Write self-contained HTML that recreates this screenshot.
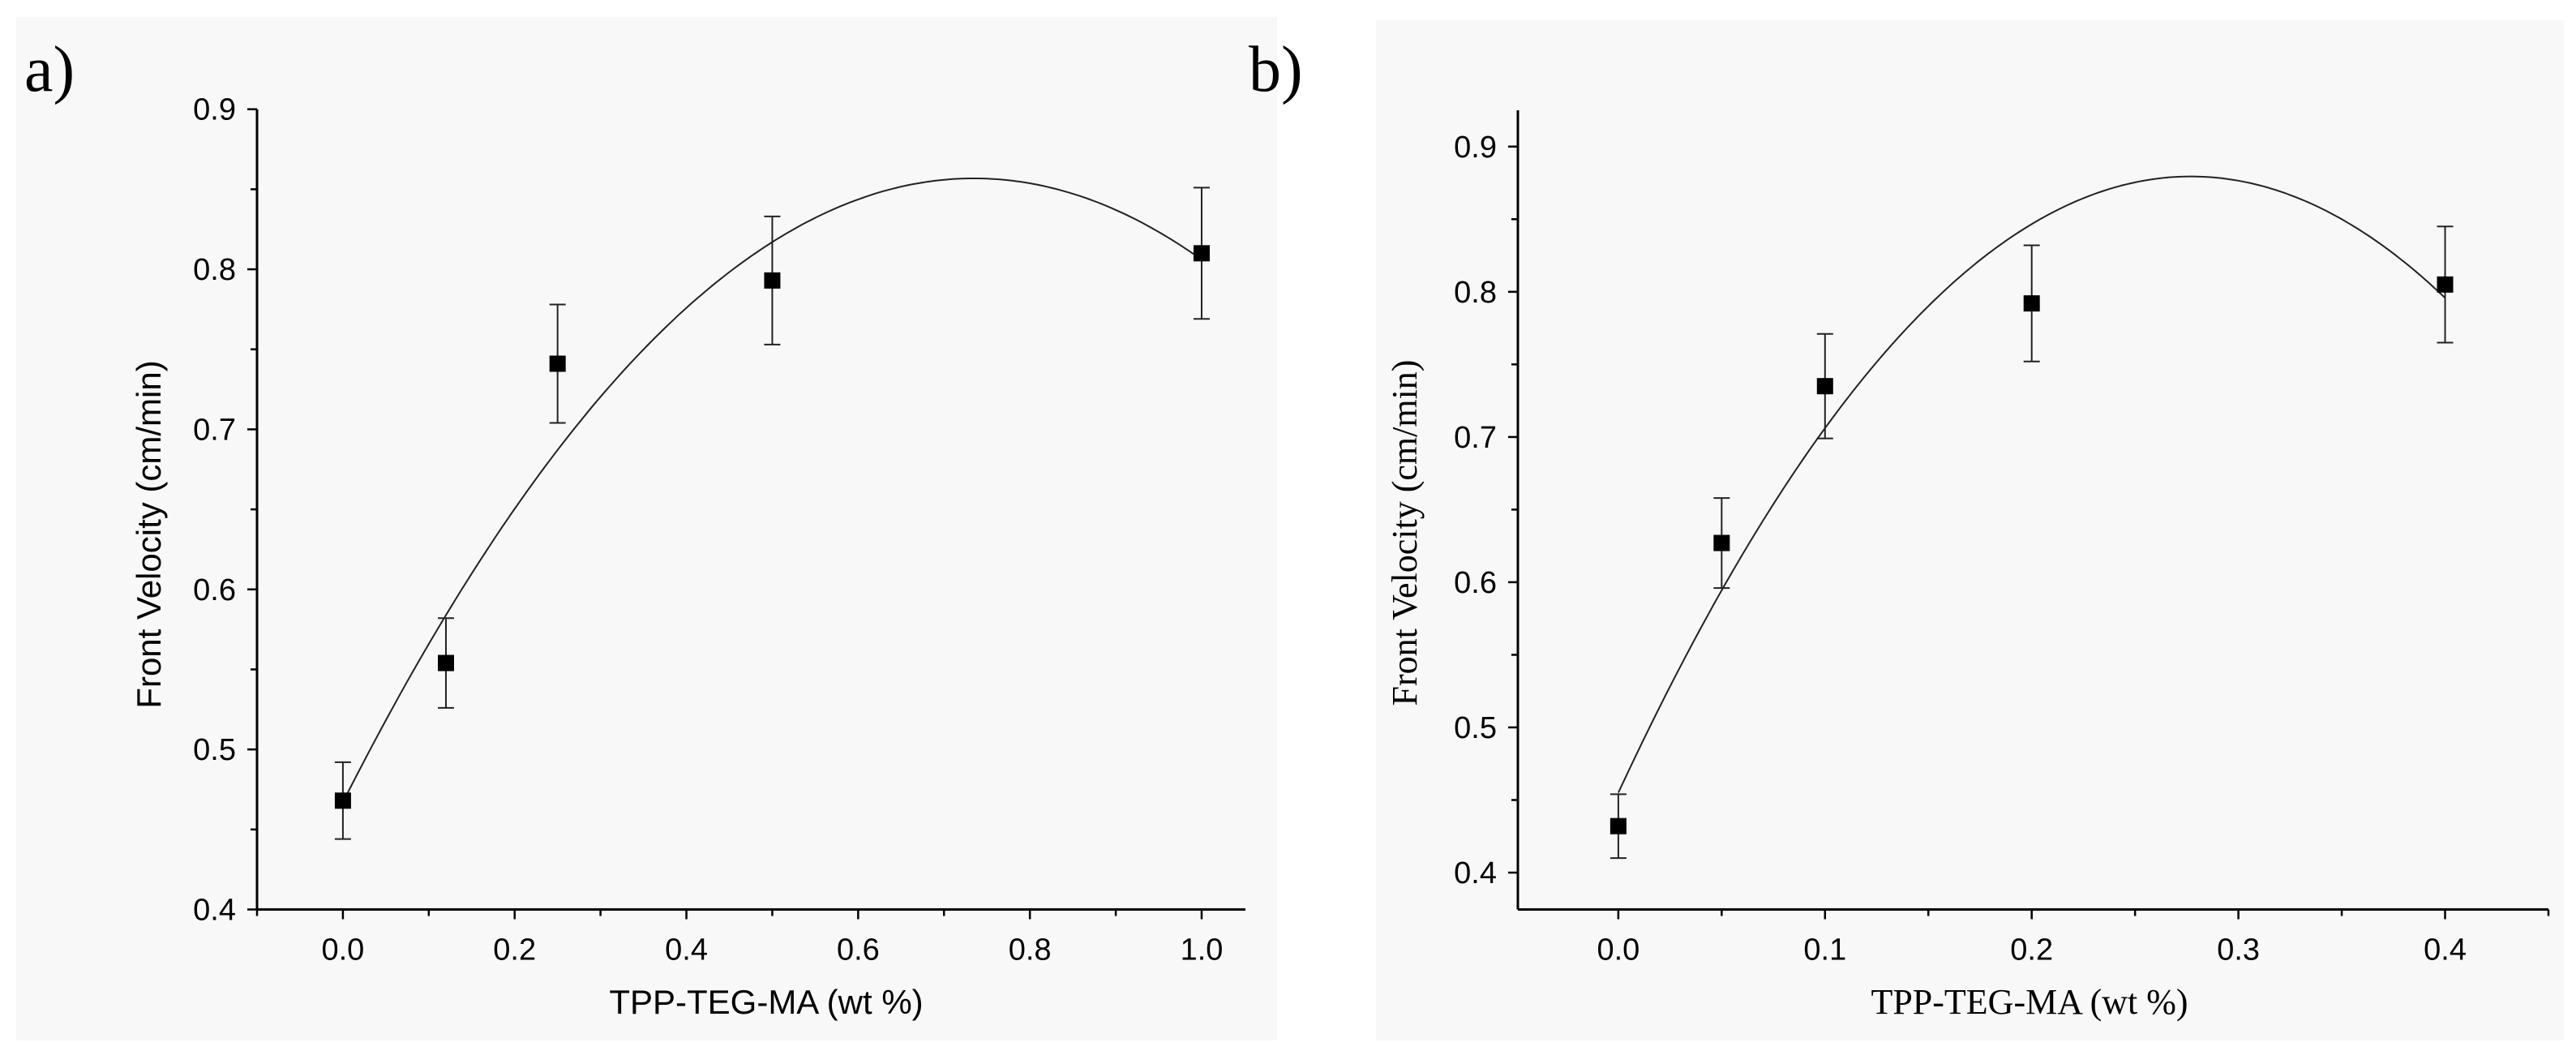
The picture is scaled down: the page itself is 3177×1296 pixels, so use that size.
<!DOCTYPE html>
<html><head><meta charset="utf-8"><style>
html,body{margin:0;padding:0;background:#fff;}
svg{display:block;}
</style></head><body>
<svg id="fig" width="3177" height="1296" viewBox="0 0 3177 1296" xmlns="http://www.w3.org/2000/svg">
<rect x="20" y="21" width="1555" height="1262" fill="#f8f8f8"/>
<rect x="1697" y="25" width="1465" height="1258" fill="#f8f8f8"/>
<text x="30" y="112" font-family="Liberation Serif, serif" font-size="80">a)</text>
<text x="1540" y="112" font-family="Liberation Serif, serif" font-size="80">b)</text>
<g id="chartA"></g>
<g id="chartB"></g>
</svg>
<script>
// Chart a data
const aX = [0, 0.12, 0.25, 0.5, 1.0];
const aY = [0.468, 0.554, 0.741, 0.793, 0.810];
const aErr = [0.024, 0.028, 0.037, 0.040, 0.041];
const aFit = [0.467, 1.061, -0.722]; // quadratic coefficients c0,c1,c2
const aXTicks = [0.0, 0.2, 0.4, 0.6, 0.8, 1.0];
const aYTicks = [0.4, 0.5, 0.6, 0.7, 0.8, 0.9];
// Chart b data
const bX = [0, 0.05, 0.1, 0.2, 0.4];
const bY = [0.432, 0.627, 0.735, 0.792, 0.805];
const bErr = [0.022, 0.031, 0.036, 0.040, 0.040];
const bFit = [0.455, 3.064, -5.53];
const bXTicks = [0.0, 0.1, 0.2, 0.3, 0.4];
const bYTicks = [0.4, 0.5, 0.6, 0.7, 0.8, 0.9];

const NS = "http://www.w3.org/2000/svg";
function mk(parent, tag, attrs){const e=document.createElementNS(NS,tag);for(const k in attrs)e.setAttribute(k,attrs[k]);parent.appendChild(e);return e;}

function draw(cfg){
  const g=document.getElementById(cfg.id);
  const sx=v=>cfg.L+(v-cfg.x0)/(cfg.x1-cfg.x0)*(cfg.R-cfg.L);
  const sy=v=>cfg.B-(v-cfg.y0)/(cfg.y1-cfg.y0)*(cfg.B-cfg.T);
  let ax=mk(g,'line',{x1:cfg.L,y1:cfg.T,x2:cfg.L,y2:cfg.B,stroke:'#000','stroke-width':3});
  
  
  ax=mk(g,'line',{x1:cfg.L,y1:cfg.B,x2:cfg.R,y2:cfg.B,stroke:'#000','stroke-width':3});
  
  
  const xs=cfg.xTicks, ys=cfg.yTicks;
  const xstep=xs[1]-xs[0], ystep=ys[1]-ys[0];
  // x ticks (major + minor)
  for(let v=Math.ceil((cfg.x0)/(xstep/2)-1e-6)*(xstep/2); v<=cfg.x1+1e-9; v+=xstep/2){
    const isMajor=xs.some(t=>Math.abs(t-v)<1e-6);
    const t=mk(g,'line',{x1:sx(v),y1:cfg.B,x2:sx(v),y2:cfg.B+(isMajor?12:8),stroke:'#000','stroke-width':2.5});
    
    
  }
  xs.forEach(v=>{
    const t=mk(g,'text',{x:sx(v),y:cfg.B+62,'text-anchor':'middle','font-family':'Liberation Sans, sans-serif','font-size':38});
    t.textContent=v.toFixed(1);
    
    
  });
  for(let v=Math.ceil(cfg.y0/(ystep/2)-1e-6)*(ystep/2); v<=cfg.y1+1e-9; v+=ystep/2){
    const isMajor=ys.some(t=>Math.abs(t-v)<1e-6);
    const t=mk(g,'line',{x1:cfg.L,y1:sy(v),x2:cfg.L-(isMajor?12:8),y2:sy(v),stroke:'#000','stroke-width':2.5});
    
    
  }
  ys.forEach(v=>{
    const t=mk(g,'text',{x:cfg.L-26,y:sy(v)+13,'text-anchor':'end','font-family':'Liberation Sans, sans-serif','font-size':38});
    t.textContent=v.toFixed(1);
    
    
  });
  // fit curve
  let d='';
  const xa=cfg.xs[0], xb=cfg.xs[cfg.xs.length-1];
  for(let i=0;i<=200;i++){const x=xa+(xb-xa)*i/200;const y=cfg.fit[0]+cfg.fit[1]*x+cfg.fit[2]*x*x;d+=(i?'L':'M')+sx(x).toFixed(1)+' '+sy(y).toFixed(1);}
  const c=mk(g,'path',{d:d,fill:'none',stroke:'#222','stroke-width':2});
  
  
  cfg.xs.forEach((x,i)=>{
    const X=sx(x), Y=sy(cfg.ys[i]), up=sy(cfg.ys[i]+cfg.err[i]), dn=sy(cfg.ys[i]-cfg.err[i]);
    const e=mk(g,'path',{d:`M${X} ${up}L${X} ${dn}M${X-10} ${up}L${X+10} ${up}M${X-10} ${dn}L${X+10} ${dn}`,stroke:'#222','stroke-width':2,fill:'none'});
    
    
    const m=mk(g,'rect',{x:X-10,y:Y-10,width:20,height:20,fill:'#000'});
    
    
  });
  let t=mk(g,'text',{x:cfg.xtX,y:1250,'text-anchor':'middle','font-family':cfg.titleFont,'font-size':cfg.titleSize});
  t.textContent='TPP-TEG-MA (wt %)';
  
  
  t=mk(g,'text',{x:0,y:0,'text-anchor':'middle','font-family':cfg.titleFont,'font-size':cfg.titleSize,transform:`translate(${cfg.ytX},${cfg.ytY}) rotate(-90)`});
  t.textContent='Front Velocity (cm/min)';
  
  
}
draw({id:'chartA',L:317,R:1536,T:134.7,B:1121.5,x0:-0.1,x1:1.051,y0:0.4,y1:0.9,xs:aX,ys:aY,err:aErr,fit:aFit,xTicks:aXTicks,yTicks:aYTicks,xtX:945,ytX:198,ytY:659,titleFont:'Liberation Sans, sans-serif',titleSize:42});
draw({id:'chartB',L:1872,R:3143,T:136,B:1121.5,x0:-0.0486,x1:0.45,y0:0.3746,y1:0.925,xs:bX,ys:bY,err:bErr,fit:bFit,xTicks:bXTicks,yTicks:bYTicks,xtX:2503,ytX:1747,ytY:657,titleFont:'Liberation Serif, serif',titleSize:44});
</script>
</body></html>
